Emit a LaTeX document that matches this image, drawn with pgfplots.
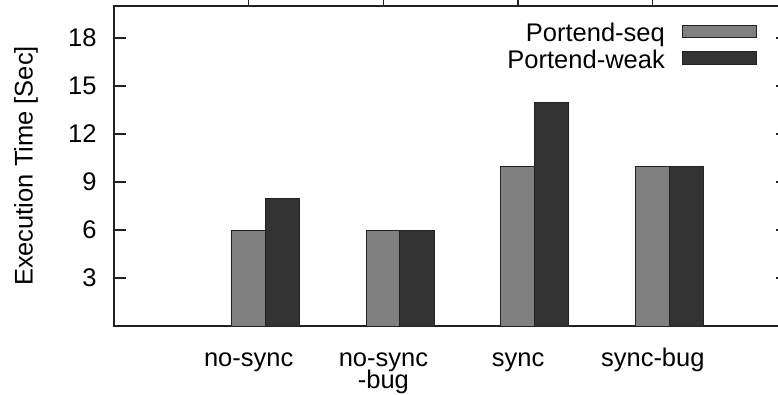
\documentclass[border=0pt]{standalone}
\usepackage{pgfplots}
\pgfplotsset{compat=1.18}
\usepackage{fontspec}
\setmainfont{Liberation Sans}
\definecolor{axcol}{HTML}{222222}
\definecolor{seqcol}{HTML}{808080}
\definecolor{weakcol}{HTML}{333333}
\begin{document}
\begin{tikzpicture}
\begin{axis}[
  scale only axis,
  width=673.5pt, height=320pt,
  xmin=0, xmax=5, ymin=0, ymax=20,
  font=\fontsize{25.5}{28.5}\selectfont,
  /pgf/number format/assume math mode=true,
  axis line style={line width=2pt, color=axcol},
  tick style={line width=1.3pt, color=axcol},
  major tick length=12pt,
  tick align=inside,
  ytick={3,6,9,12,15,18},
  ytick pos=both,
  yticklabel pos=left,
  yticklabel style={anchor=east, inner sep=0pt, xshift=-17.3pt},
  xtick={1,2,3,4},
  xticklabels={\rule{0pt}{20pt}no-sync, \rule{0pt}{20pt}no-sync\\[-6.5pt]-bug, \rule{0pt}{20pt}sync, \rule{0pt}{20pt}sync-bug},
  xtick pos=right,
  xticklabel pos=left,
  xticklabel style={align=center, anchor=north, inner sep=0pt, yshift=-8pt},
  ylabel={Execution Time [Sec]},
  ylabel style={at={(axis description cs:-0.1207,0.5)}, anchor=base},
  ybar, bar width=0.255,
  legend plot pos=right,
  legend cell align=right,
  legend style={draw=none, fill=none, inner sep=0pt, outer sep=0pt,
    at={(rel axis cs:0.955,0.9447)}, anchor=north east,
    row sep=2.6pt, column sep=17.4pt,
    nodes={inner sep=0pt, outer sep=0pt, text height=18pt, text depth=6pt}},
  legend image code/.code={\draw[#1, line width=1pt] (0.5pt,-1.8pt) rectangle (74.5pt,10.5pt);},
]
\addplot[bar shift=0pt, fill=seqcol, draw=axcol, line width=1pt] coordinates {(1,6) (2,6) (3,10) (4,10)};
\addlegendentry{Portend-seq}
\addplot[bar shift=0pt, fill=weakcol, draw=axcol, line width=1pt] coordinates {(1.25,8) (2.25,6) (3.25,14) (4.25,10)};
\addlegendentry{Portend-weak}
\coordinate (O) at (rel axis cs:0,0);
\end{axis}
\pgfresetboundingbox
\path[use as bounding box] ([shift={(-114pt,-68pt)}]O) rectangle ([shift={(664pt,326pt)}]O);
\end{tikzpicture}
\end{document}
